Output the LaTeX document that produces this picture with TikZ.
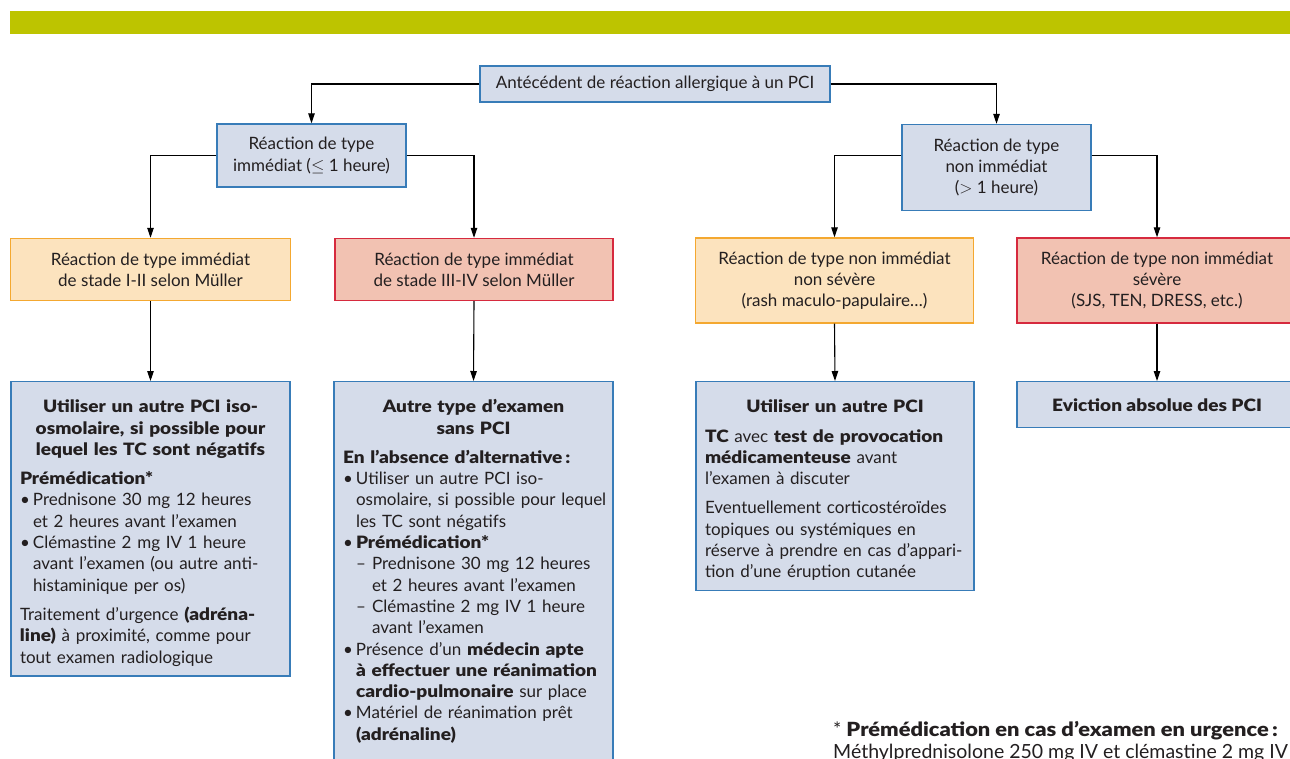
\documentclass[tikz,border=0pt]{standalone}
\usepackage{fontspec}
\IfFontExistsTF{Lato Black}
  {\setmainfont{Lato}[BoldFont={Lato Black}, BoldFeatures={FakeStretch=1.12}]}
  {\setmainfont{Lato}[BoldFeatures={FakeStretch=1.2}]}
\usetikzlibrary{arrows.meta}
\definecolor{barcol}{RGB}{189,196,0}
\definecolor{bbf}{RGB}{213,220,234}
\definecolor{bbd}{RGB}{56,124,184}
\definecolor{obf}{RGB}{252,227,190}
\definecolor{obd}{RGB}{244,168,48}
\definecolor{rbf}{RGB}{242,194,178}
\definecolor{rbd}{RGB}{214,42,62}
\definecolor{txt}{RGB}{35,31,32}
\newcommand{\mybul}{\makebox[13pt][l]{\textbullet}}
\newcommand{\myind}{\hspace*{13pt}}
\newcommand{\mydash}{\hspace*{13pt}\makebox[16pt][l]{–}}
\newcommand{\myindd}{\hspace*{29pt}}
\newcommand{\ctrline}[1]{\makebox[\linewidth][c]{#1}}
\newcommand{\topstrut}{\rule{0pt}{21pt}}
\tikzset{
  base/.style={font=\fontsize{17}{21.3}\selectfont, text=txt, line width=1.4pt, inner sep=0pt, align=center},
  bluebox/.style={base, draw=bbd, fill=bbf},
  orbox/.style={base, draw=obd, fill=obf},
  redbox/.style={base, draw=rbd, fill=rbf},
  bigbox/.style={bluebox, anchor=north, align=left, inner xsep=9pt, inner ysep=10pt},
  conn/.style={line width=1.1pt, draw=black},
  arr/.style={conn, -{Triangle[length=10pt,width=6.5pt]}},
}
\begin{document}
\begin{tikzpicture}[x=1pt,y=-1pt]
\clip (0,0) rectangle (1290,758);
\fill[white] (0,0) rectangle (1290,758);
\fill[barcol] (10,11) rectangle (1290,34);

\node[bluebox, minimum width=350pt, minimum height=36pt] (root) at (655,84) {Antécédent de réaction allergique à un PCI};

\node[bluebox, minimum width=189pt, minimum height=63pt] (l2l) at (311.5,155.5) {Réaction de type\\immédiat ($\leq$ 1 heure)};
\node[bluebox, minimum width=189pt, minimum height=86pt] (l2r) at (996.5,167.5) {Réaction de type\\non immédiat\\($>$ 1 heure)};

\node[orbox, minimum width=280pt, minimum height=62pt] (a3) at (150.5,269.5) {Réaction de type immédiat\\de stade I-II selon Müller};
\node[redbox, minimum width=278pt, minimum height=62pt] (b3) at (474,269.5) {Réaction de type immédiat\\de stade III-IV selon Müller};
\node[orbox, minimum width=278pt, minimum height=85pt] (c3) at (834.5,280.5) {Réaction de type non immédiat\\non sévère\\(rash maculo-papulaire…)};
\node[redbox, minimum width=280pt, minimum height=85pt] (d3) at (1157,280.5) {Réaction de type non immédiat\\sévère\\(SJS, TEN, DRESS, etc.)};

\node[bigbox, text width=261pt] (a4) at (150.5,381) {%
\topstrut\textbf{\ctrline{Utiliser un autre PCI iso-}}\\
\textbf{\ctrline{osmolaire, si possible pour}}\\
\textbf{\ctrline{lequel les TC sont négatifs}}\\[8pt]
\textbf{Prémédication*}\\
\mybul Prednisone 30 mg 12 heures\\
\myind et 2 heures avant l’examen\\
\mybul Clémastine 2 mg IV 1 heure\\
\myind avant l’examen (ou autre anti-\\
\myind histaminique per os)\\[8pt]
Traitement d’urgence \textbf{(adréna-}\\
\textbf{line)} à proximité, comme pour\\
tout examen radiologique};

\node[bigbox, text width=261pt] (b4) at (473.5,381) {%
\topstrut\textbf{\ctrline{Autre type d’examen}}\\
\textbf{\ctrline{sans PCI}}\\[8pt]
\textbf{En l’absence d’alternative\,:}\\
\mybul Utiliser un autre PCI iso-\\
\mbox{\myind osmolaire, si possible pour lequel}\\
\myind les TC sont négatifs\\
\mybul \textbf{Prémédication*}\\
\mydash Prednisone 30 mg 12 heures\\
\myindd et 2 heures avant l’examen\\
\mydash Clémastine 2 mg IV 1 heure\\
\myindd avant l’examen\\
\mybul Présence d’un \textbf{médecin apte}\\
\mbox{\myind \textbf{à effectuer une réanimation}}\\
\mbox{\myind \textbf{cardio-pulmonaire} sur place}\\
\mybul Matériel de réanimation prêt\\
\myind \textbf{(adrénaline)}\rule[-40pt]{0pt}{0pt}};

\node[bigbox, text width=260pt] (c4) at (835,381) {%
\topstrut\textbf{\ctrline{Utiliser un autre PCI}}\\[8pt]
\textbf{TC} avec \textbf{test de provocation}\\
\textbf{médicamenteuse} avant\\
l’examen à discuter\\[8pt]
Eventuellement corticostéroïdes\\
topiques ou systémiques en\\
réserve à prendre en cas d’appari-\\
tion d’une éruption cutanée};

\node[bluebox, anchor=north, minimum width=280pt, minimum height=46pt, font=\fontsize{17}{21.3}\selectfont\bfseries] (d4) at (1157,381) {Eviction absolue des PCI};

\node[anchor=north west, inner sep=0pt, align=left, text=txt, font=\fontsize{19.5}{22}\selectfont] (fn) at (833,721) {* \textbf{Prémédication en cas d’examen en urgence\,:}\\Méthylprednisolone 250 mg IV et clémastine 2 mg IV};

\draw[arr] (root.west) -| (l2l.north);
\draw[arr] (root.east) -| (l2r.north);
\draw[arr] (l2l.west) -| (a3.north);
\draw[arr] (l2l.east) -| (b3.north);
\draw[arr] (l2r.west |- l2l.center) -| (c3.north);
\draw[arr] (l2r.east |- l2l.center) -| (d3.north);
\draw[arr] (a3.south) -- (a4.north);
\draw[arr] (b3.south) -- (b4.north);
\draw[arr] (c3.south) -- (c4.north);
\draw[arr] (d3.south) -- (d4.north);
\end{tikzpicture}
\end{document}
